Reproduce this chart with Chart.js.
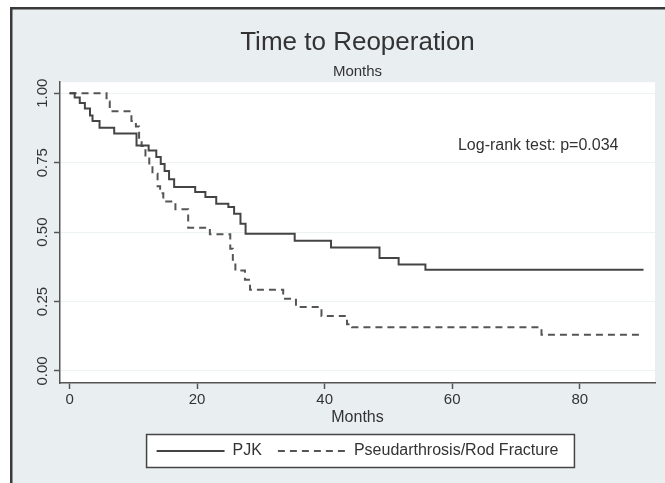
<!DOCTYPE html>
<html>
<head>
<meta charset="utf-8">
<script src="https://cdn.jsdelivr.net/npm/chart.js@4/dist/chart.umd.min.js"></script>
<style>
  html, body { margin: 0; padding: 0; background: #fff; }
  #wrap { width: 665px; height: 483px; }
</style>
</head>
<body>
<div id="wrap"><canvas id="km" width="665" height="483"></canvas></div>
<script>
// Kaplan-Meier steps (months, survival after the step)
const pjkMonths = [0, 0.8, 1.6, 2.4, 3.2, 3.6, 4.7, 7.0, 10.5, 12.4, 13.6, 14.3, 14.9, 15.6, 16.4, 19.7, 21.3, 23.0, 24.9, 25.8, 26.8, 27.6, 35.3, 41.0, 48.6, 51.6, 55.8, 90.0];
const pjkSurvival = [1.0, 0.985, 0.965, 0.945, 0.92, 0.90, 0.876, 0.855, 0.812, 0.794, 0.77, 0.745, 0.72, 0.69, 0.662, 0.644, 0.626, 0.602, 0.59, 0.566, 0.53, 0.494, 0.469, 0.445, 0.407, 0.383, 0.364, 0.364];

const pseudoMonths = [0, 5.8, 6.3, 9.7, 10.4, 10.9, 11.3, 11.9, 12.5, 13.0, 13.8, 14.2, 14.7, 16.6, 18.6, 22.0, 25.2, 25.6, 26.0, 27.5, 28.3, 33.5, 35.5, 39.5, 43.5, 44.3, 74.0, 90.0];
const pseudoSurvival = [1.0, 0.97, 0.935, 0.90, 0.88, 0.84, 0.81, 0.776, 0.74, 0.71, 0.665, 0.64, 0.61, 0.582, 0.516, 0.492, 0.44, 0.40, 0.362, 0.328, 0.292, 0.26, 0.23, 0.198, 0.168, 0.157, 0.13, 0.13];

const seriesNames = ['PJK', 'Pseudarthrosis/Rod Fracture'];
const xTicks = [0, 20, 40, 60, 80];
const yTicks = [0, 0.25, 0.5, 0.75, 1];
const yTickLabels = ['0.00', '0.25', '0.50', '0.75', '1.00'];
const logRankText = 'Log-rank test: p=0.034';
const logRankAt = { x: 60.9, y: 0.81 };

const FONT = '"Liberation Sans", Arial, Helvetica, sans-serif';
const INK = '#333';

const toPoints = (xs, ys) => xs.map((x, i) => ({ x, y: ys[i] }));

// background, plot region, legend frame, rotated y labels, note
const stataLook = {
  id: 'stataLook',
  beforeDraw(chart) {
    const { ctx, chartArea: a, width, height } = chart;
    ctx.save();
    ctx.fillStyle = '#fff';
    ctx.fillRect(0, 0, width, height);
    ctx.fillStyle = '#e9eff1';
    ctx.fillRect(12, 9, width - 12, height - 9);
    ctx.fillStyle = '#3a3a3a';
    ctx.fillRect(10, 7, width - 10, 2.5);
    ctx.fillRect(10, 7, 2.5, height - 7);
    ctx.fillStyle = '#fff';
    ctx.fillRect(a.left, a.top, a.right - a.left, a.bottom - a.top);

    const boxes = chart.legend.legendHitBoxes;
    if (boxes && boxes.length) {
      const l = Math.min(...boxes.map(b => b.left)) - 10;
      const r = Math.max(...boxes.map(b => b.left + b.width)) + 16;
      const c = boxes[0].top + boxes[0].height / 2;
      ctx.fillStyle = '#fff';
      ctx.fillRect(l, c - 16.5, r - l, 33);
      ctx.strokeStyle = '#444';
      ctx.lineWidth = 1.5;
      ctx.strokeRect(l, c - 16.5, r - l, 33);
    }
    ctx.restore();
  },
  afterDraw(chart) {
    const { ctx, scales: { x, y } } = chart;
    ctx.save();
    ctx.fillStyle = INK;
    ctx.font = '15px ' + FONT;
    ctx.textAlign = 'center';
    ctx.textBaseline = 'middle';
    yTicks.forEach((v, i) => {
      ctx.save();
      ctx.translate(43, y.getPixelForValue(v));
      ctx.rotate(-Math.PI / 2);
      ctx.fillText(yTickLabels[i], 0, 0);
      ctx.restore();
    });
    ctx.font = '16px ' + FONT;
    ctx.textAlign = 'left';
    ctx.fillText(logRankText, x.getPixelForValue(logRankAt.x), y.getPixelForValue(logRankAt.y));
    ctx.restore();
  }
};

new Chart(document.getElementById('km'), {
  type: 'line',
  data: {
    datasets: [{
      label: seriesNames[0],
      data: toPoints(pjkMonths, pjkSurvival),
      stepped: true,
      borderColor: '#444',
      borderWidth: 2,
      pointRadius: 0,
      fill: false
    }, {
      label: seriesNames[1],
      data: toPoints(pseudoMonths, pseudoSurvival),
      stepped: true,
      borderColor: '#555',
      borderWidth: 2,
      borderDash: [7, 5],
      pointRadius: 0,
      fill: false
    }]
  },
  options: {
    responsive: false,
    animation: false,
    layout: { padding: { left: 12, right: 10, top: 0, bottom: 14 } },
    scales: {
      x: {
        type: 'linear',
        min: -1.5,
        max: 91.8,
        afterBuildTicks: s => { s.ticks = xTicks.map(v => ({ value: v })); },
        afterFit: s => { s.height = 44; },
        ticks: { color: INK, font: { family: FONT, size: 15 }, padding: 2, maxRotation: 0 },
        grid: { display: true, drawOnChartArea: false, drawTicks: true, tickLength: 6, tickColor: '#555', tickWidth: 1.5 },
        border: { color: '#555', width: 1.5 },
        title: { display: true, text: 'Months', color: INK, font: { family: FONT, size: 16 }, padding: { top: 1, bottom: 0 } }
      },
      y: {
        min: -0.0433,
        max: 1.0397,
        afterBuildTicks: s => { s.ticks = yTicks.map(v => ({ value: v })); },
        afterFit: s => { s.width = 48; },
        ticks: { display: false },
        grid: { color: '#edf2f4', lineWidth: 1, drawTicks: true, tickLength: 6, tickColor: '#555', tickWidth: 1.5 },
        border: { color: '#555', width: 1.5 }
      }
    },
    plugins: {
      title: {
        display: true,
        fullSize: false,
        text: 'Time to Reoperation',
        color: INK,
        font: { family: FONT, size: 26, weight: 'normal' },
        padding: { top: 27, bottom: 0 }
      },
      subtitle: {
        display: true,
        fullSize: false,
        text: 'Months',
        color: INK,
        font: { family: FONT, size: 15 },
        padding: { top: 5, bottom: 1 }
      },
      legend: {
        position: 'bottom',
        fullSize: false,
        labels: {
          color: INK,
          font: { family: FONT, size: 16 },
          usePointStyle: true,
          pointStyle: 'line',
          pointStyleWidth: 68,
          boxHeight: 16,
          padding: 16,
          // point-style items do not carry the dataset dash, so copy it over
          generateLabels: chart => Chart.defaults.plugins.legend.labels.generateLabels(chart).map(item => {
            const ds = chart.data.datasets[item.datasetIndex];
            item.lineDash = ds.borderDash || [];
            item.lineWidth = ds.borderWidth;
            item.strokeStyle = ds.borderColor;
            return item;
          })
        }
      },
      tooltip: { enabled: false }
    }
  },
  plugins: [stataLook]
});
</script>
</body>
</html>
